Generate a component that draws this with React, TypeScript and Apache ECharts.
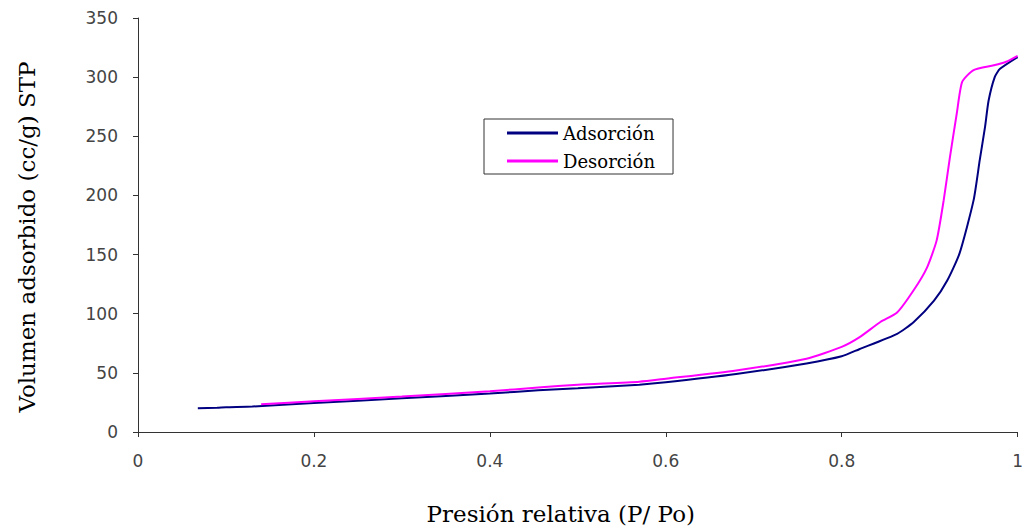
import React, { useEffect, useRef } from "react";
import * as echarts from "echarts";

const adsorcion: [number, number][] = [
  [0.068, 20], [0.09, 20.5], [0.1, 21], [0.13, 21.5], [0.2, 24.5], [0.3, 28.5],
  [0.4, 32.5], [0.455, 35.2], [0.5, 37], [0.57, 40], [0.6, 42], [0.68, 49],
  [0.76, 58], [0.8, 64], [0.82, 70], [0.863, 83], [0.882, 93], [0.905, 111],
  [0.92, 128], [0.934, 151], [0.95, 196], [0.957, 230], [0.963, 258],
  [0.967, 280], [0.974, 300], [0.98, 307], [1.0, 317],
];

const desorcion: [number, number][] = [
  [0.14, 23.5], [0.2, 26], [0.3, 30], [0.4, 34.5], [0.455, 37.6], [0.5, 40],
  [0.57, 42.5], [0.6, 45], [0.68, 52], [0.76, 62], [0.8, 72], [0.82, 80],
  [0.844, 93], [0.863, 101], [0.882, 120], [0.897, 139], [0.908, 162],
  [0.916, 196], [0.923, 232], [0.931, 270], [0.937, 296], [0.95, 306],
  [0.973, 310], [0.987, 313], [1.0, 318],
];

const seriesNames = ["Adsorción", "Desorción"];
const xTitle = "Presión relativa (P/ Po)";
const yTitle = "Volumen adsorbido (cc/g) STP";

export default function App() {
  const ref = useRef<HTMLDivElement>(null);
  useEffect(() => {
    if (!ref.current) return;
    const chart = echarts.init(ref.current, null, { renderer: "svg" });
    const axisLine = { show: true, lineStyle: { color: "#333", width: 1 } };
    const labelStyle = { fontFamily: "DejaVu Sans", fontSize: 17, color: "#444" };
    chart.setOption({
      animation: false,
      backgroundColor: "#fff",
      grid: { left: 138, right: 5, top: 18, bottom: 99, containLabel: false },
      legend: {
        data: seriesNames,
        orient: "vertical",
        left: 484,
        top: 119,
        icon: "rect",
        itemWidth: 51,
        itemHeight: 3,
        itemGap: 10,
        padding: [5, 18, 4, 23],
        borderColor: "#333",
        borderWidth: 1,
        textStyle: { fontFamily: "DejaVu Serif", fontSize: 18, color: "#000", lineHeight: 18 },
      },
      xAxis: {
        type: "value",
        min: 0,
        max: 1,
        interval: 0.2,
        name: xTitle,
        nameLocation: "middle",
        nameGap: 70,
        nameTextStyle: { fontFamily: "DejaVu Serif", fontSize: 23, color: "#000", padding: [0, 34, 0, 0] },
        axisLine,
        axisTick: { show: true, length: 5, lineStyle: { color: "#333" } },
        axisLabel: { ...labelStyle, margin: 20 },
        splitLine: { show: false },
      },
      yAxis: {
        type: "value",
        min: 0,
        max: 350,
        interval: 50,
        name: yTitle,
        nameLocation: "middle",
        nameGap: 100,
        nameTextStyle: { fontFamily: "DejaVu Serif", fontSize: 23, color: "#000", padding: [0, 24, 0, 0] },
        axisLine,
        axisTick: { show: true, length: 5, lineStyle: { color: "#333" } },
        axisLabel: { ...labelStyle, margin: 20 },
        splitLine: { show: false },
      },
      series: [
        {
          name: seriesNames[0],
          type: "line",
          data: adsorcion,
          symbol: "none",
          smooth: 0.2,
          color: "#000080",
          lineStyle: { color: "#000080", width: 2 },
        },
        {
          name: seriesNames[1],
          type: "line",
          data: desorcion,
          symbol: "none",
          smooth: 0.2,
          color: "#FF00FF",
          lineStyle: { color: "#FF00FF", width: 2 },
        },
      ],
    });
    return () => chart.dispose();
  }, []);
  return <div ref={ref} style={{ width: 1026, height: 531, position: "absolute", left: 0, top: 0 }} />;
}
